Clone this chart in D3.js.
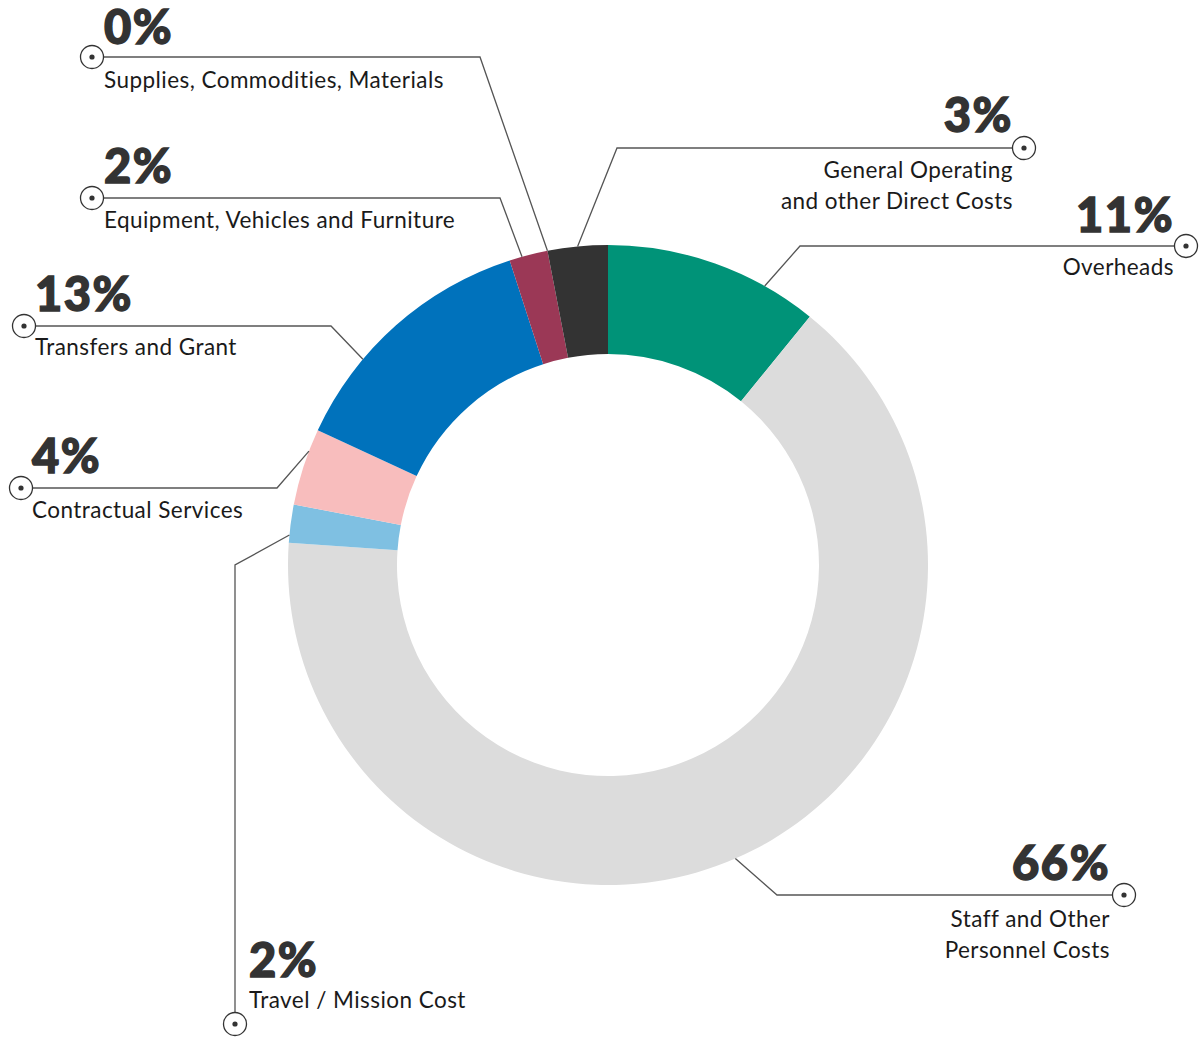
<html>
<head>
    <title>Budget breakdown</title>
    <script src="https://d3js.org/d3.v7.min.js"></script>
    <style>
        body { margin: 0; background: white; }
        .pct { font-family: Lato, "DejaVu Sans", sans-serif; font-weight: 900; font-size: 47px; fill: #333333;
               stroke: #333333; stroke-width: 1.4; letter-spacing: 1.5px; }
        .lbl { font-family: Lato, "DejaVu Sans", sans-serif; font-weight: 400; font-size: 22.5px; fill: #1a1a1a;
               letter-spacing: 0.45px; }
        .leader { fill: none; stroke: #555555; stroke-width: 1.3; }
    </style>
</head>
<body>
    <div id="chart"></div>
    <script>
        // data, clockwise from 12 o'clock
        var categories = ["Overheads", "Staff and Other Personnel Costs", "Travel / Mission Cost",
                          "Contractual Services", "Transfers and Grant", "Equipment, Vehicles and Furniture",
                          "Supplies, Commodities, Materials", "General Operating and other Direct Costs"];
        var values = [10.86, 65.25, 1.92, 3.89, 13.11, 1.94, 0.0, 3.03];
        var pct_labels = ["11%", "66%", "2%", "4%", "13%", "2%", "0%", "3%"];
        var text_lines = [["Overheads"], ["Staff and Other", "Personnel Costs"], ["Travel / Mission Cost"],
                          ["Contractual Services"], ["Transfers and Grant"], ["Equipment, Vehicles and Furniture"],
                          ["Supplies, Commodities, Materials"], ["General Operating", "and other Direct Costs"]];
        var colors = ["#009378", "#dcdcdc", "#7fc0e2", "#f8bdbd", "#0072bc", "#9b3856", "#c9c9c9", "#333333"];

        // label layout: where the leader touches the slice (fraction of slice), elbow, marker, text
        var layout = [
            {t: 0.75, elbow: [800, 246], marker: [1186, 246], anchor: "end",   tx: 1174, pctY: 232, lineY: [275]},
            {t: 0.5,  elbow: [777, 895], marker: [1124, 895], anchor: "end",   tx: 1110, pctY: 880, lineY: [927, 958]},
            {t: 0.2,  elbow: [235, 565], marker: [235, 1024], anchor: "start", tx: 249,  pctY: 977, lineY: [1008]},
            {t: 0.71, elbow: [277, 488], marker: [21, 488],   anchor: "start", tx: 32,   pctY: 473, lineY: [518]},
            {t: 0.32, elbow: [331, 326], marker: [24, 326],   anchor: "start", tx: 35,   pctY: 311, lineY: [355]},
            {t: 0.33, elbow: [500, 198], marker: [92, 198],   anchor: "start", tx: 104,  pctY: 183, lineY: [228]},
            {t: 0.5,  elbow: [480, 57],  marker: [92, 57],    anchor: "start", tx: 104,  pctY: 44,  lineY: [88]},
            {t: 0.5,  elbow: [617, 148], marker: [1024, 148], anchor: "end",   tx: 1013, pctY: 132, lineY: [178, 209]}
        ];

        var width = 1200, height = 1038;
        var cx = 608, cy = 565, outer_r = 320, inner_r = 211;

        var svg = d3.select("#chart").append("svg")
                    .attr("width", width)
                    .attr("height", height);

        var pie = d3.pie().sort(null).value(function(d){ return d; });
        var arcs = pie(values);
        var arc = d3.arc().innerRadius(inner_r).outerRadius(outer_r);

        var ring = svg.append("g").attr("transform", "translate(" + cx + "," + cy + ")");
        ring.selectAll("path")
            .data(arcs)
            .enter().append("path")
            .attr("d", arc)
            .attr("fill", function(d, i){ return colors[i]; });

        var labels = svg.append("g");
        arcs.forEach(function(a, i){
            var L = layout[i];
            var ang = a.startAngle + (a.endAngle - a.startAngle) * L.t;
            var ax = cx + outer_r * Math.sin(ang);
            var ay = cy - outer_r * Math.cos(ang);
            var g = labels.append("g");

            g.append("path")
             .attr("class", "leader")
             .attr("d", d3.line()([[ax, ay], L.elbow, L.marker]));

            g.append("circle")
             .attr("cx", L.marker[0]).attr("cy", L.marker[1]).attr("r", 11.5)
             .attr("fill", "white").attr("stroke", "#333").attr("stroke-width", 1.3);
            g.append("circle")
             .attr("cx", L.marker[0]).attr("cy", L.marker[1]).attr("r", 2.6)
             .attr("fill", "#333");

            g.append("text")
             .attr("class", "pct")
             .attr("x", L.tx).attr("y", L.pctY)
             .attr("text-anchor", L.anchor)
             .text(pct_labels[i]);

            text_lines[i].forEach(function(line, k){
                g.append("text")
                 .attr("class", "lbl")
                 .attr("x", L.tx).attr("y", L.lineY[k])
                 .attr("text-anchor", L.anchor)
                 .text(line);
            });
        });
    </script>
</body>
</html>
